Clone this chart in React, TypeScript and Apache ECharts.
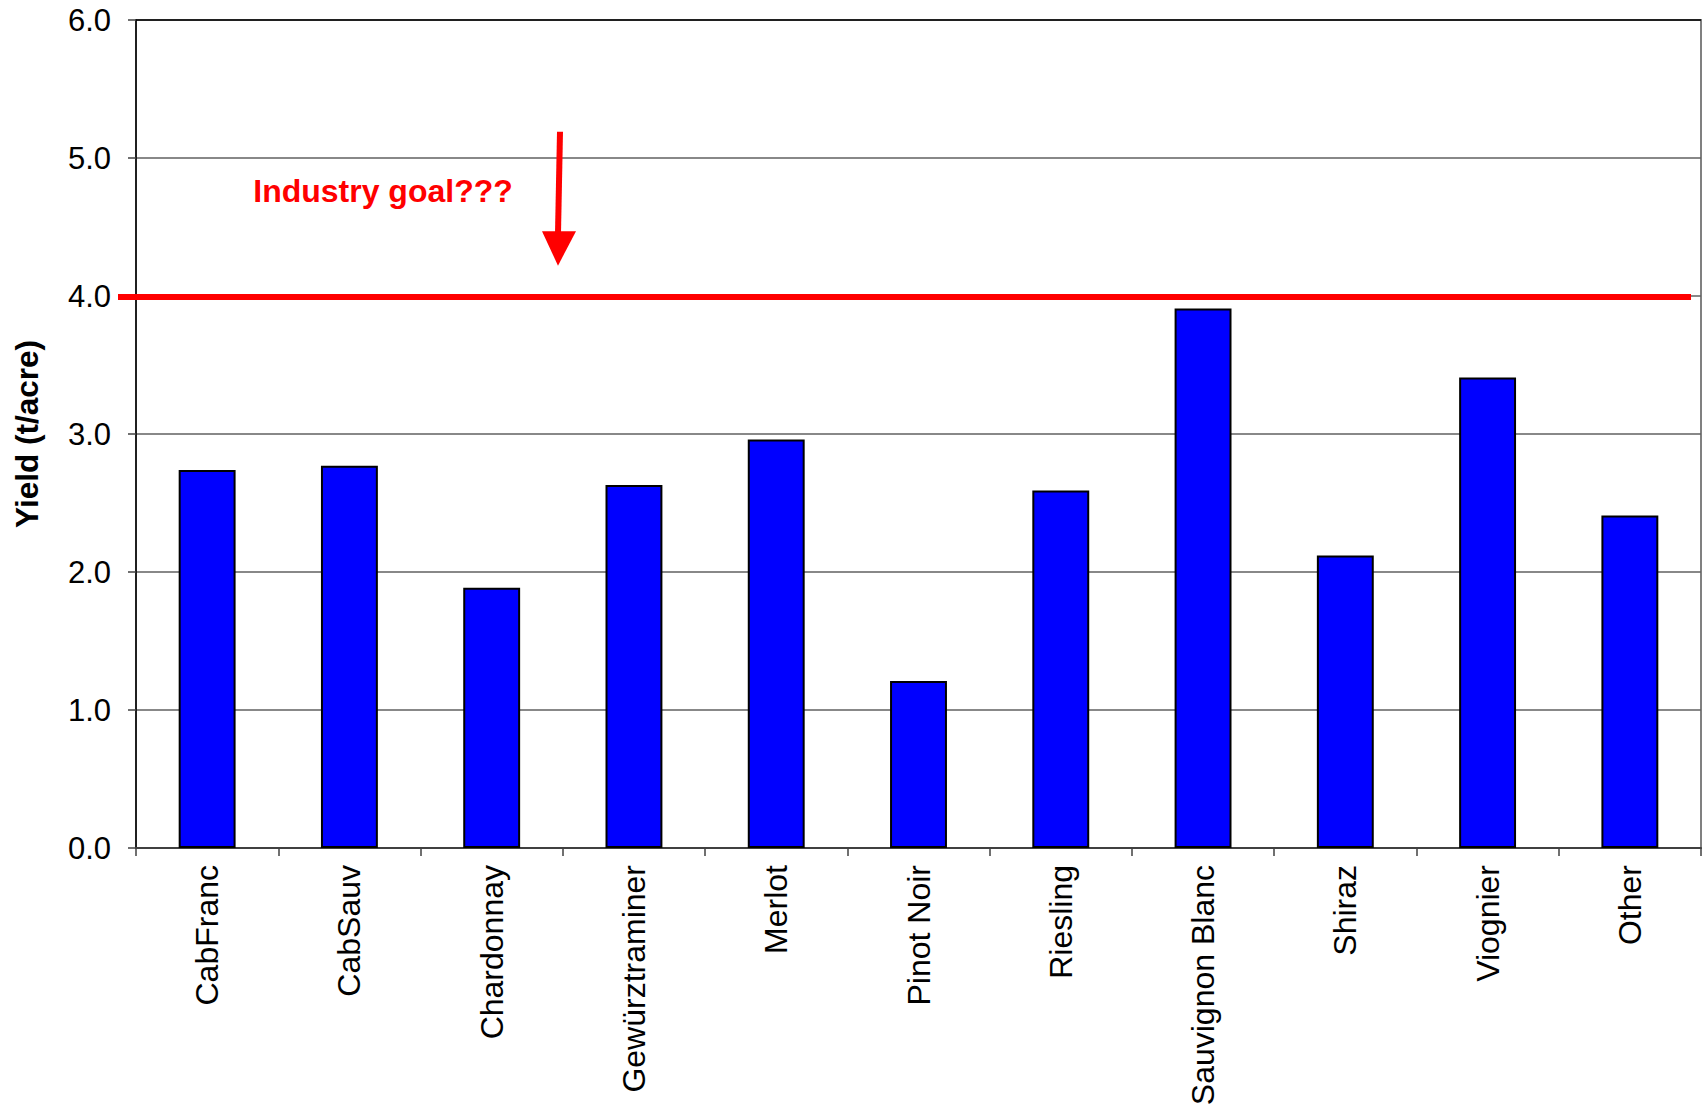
import React, { useEffect, useRef } from "react";
import * as echarts from "echarts";

const categories = [
  "CabFranc",
  "CabSauv",
  "Chardonnay",
  "Gewürztraminer",
  "Merlot",
  "Pinot Noir",
  "Riesling",
  "Sauvignon Blanc",
  "Shiraz",
  "Viognier",
  "Other",
];
const yieldValues = [2.74, 2.77, 1.885, 2.63, 2.96, 1.21, 2.59, 3.91, 2.12, 3.41, 2.41];
const goalValue = 4.0;
const goalLabel = "Industry goal???";
const yAxisName = "Yield (t/acre)";

const FONT = "'Liberation Sans', Arial, Helvetica, sans-serif";

export default function App() {
  const ref = useRef<HTMLDivElement>(null);

  useEffect(() => {
    if (!ref.current) return;
    const chart = echarts.init(ref.current, null, { renderer: "svg" });
    const gridLeft = 136;
    const gridRight = 5;
    const W = 1706;
    chart.setOption({
      animation: false,
      backgroundColor: "#ffffff",
      grid: {
        left: gridLeft,
        right: gridRight,
        top: 20,
        bottom: 258,
        containLabel: false,
        outerBoundsMode: "none",
        show: true,
        borderColor: "#808080",
        borderWidth: 2,
        backgroundColor: "transparent",
      },
      xAxis: {
        type: "category",
        data: categories,
        axisLine: { show: true, lineStyle: { color: "#404040", width: 2 } },
        axisTick: { show: true, length: 8, interval: 0, lineStyle: { color: "#404040", width: 1.5 } },
        axisLabel: {
          rotate: 90,
          interval: 0,
          margin: 17,
          color: "#000",
          fontSize: 32,
          fontFamily: FONT,
        },
        splitLine: { show: false },
      },
      yAxis: {
        type: "value",
        min: 0,
        max: 6,
        interval: 1,
        name: yAxisName,
        nameLocation: "middle",
        nameRotate: 90,
        nameGap: 93,
        nameTextStyle: { fontSize: 31.5, fontWeight: "bold", color: "#000", fontFamily: FONT },
        axisLine: { show: true, lineStyle: { color: "#000", width: 1.5 } },
        axisTick: { show: true, length: 8, lineStyle: { color: "#404040", width: 1.5 } },
        axisLabel: {
          margin: 25,
          color: "#000",
          fontSize: 31,
          fontFamily: FONT,
          formatter: (v: number) => v.toFixed(1),
        },
        splitLine: {
          show: true,
          lineStyle: {
            color: ["#606060", "#606060", "#606060", "#606060", "#606060", "#606060", "#000000"],
            width: 1.5,
          },
        },
      },
      series: [
        {
          type: "bar",
          data: yieldValues,
          barWidth: "40%",
          itemStyle: { color: "#0000ff", borderColor: "#000", borderWidth: 2 },
        },
      ],
    });

    const yGoal = chart.convertToPixel({ yAxisIndex: 0 }, goalValue) as number;
    const yShaftTop = chart.convertToPixel({ yAxisIndex: 0 }, 5.19) as number;
    const yHeadTop = chart.convertToPixel({ yAxisIndex: 0 }, 4.47) as number;
    const yTip = chart.convertToPixel({ yAxisIndex: 0 }, 4.22) as number;
    const yText = chart.convertToPixel({ yAxisIndex: 0 }, 4.76) as number;

    chart.setOption({
      graphic: [
        {
          type: "line",
          shape: { x1: gridLeft - 18, y1: yGoal + 1, x2: W - gridRight - 10, y2: yGoal + 1 },
          style: { stroke: "#ff0000", lineWidth: 6 },
          z: 100,
        },
        {
          type: "line",
          shape: { x1: 560, y1: yShaftTop, x2: 558, y2: yHeadTop + 2 },
          style: { stroke: "#ff0000", lineWidth: 6 },
          z: 100,
        },
        {
          type: "polygon",
          shape: {
            points: [
              [542, yHeadTop],
              [576, yHeadTop],
              [558, yTip],
            ],
          },
          style: { fill: "#ff0000" },
          z: 100,
        },
        {
          type: "text",
          x: 383,
          y: yText,
          style: {
            text: goalLabel,
            fill: "#ff0000",
            font: `bold 32px ${FONT}`,
            textAlign: "center",
            textVerticalAlign: "middle",
          },
          z: 100,
        },
      ],
    });

    return () => chart.dispose();
  }, []);

  return (
    <div
      ref={ref}
      style={{ position: "fixed", left: 0, top: 0, width: 1706, height: 1106, background: "#fff" }}
    />
  );
}
